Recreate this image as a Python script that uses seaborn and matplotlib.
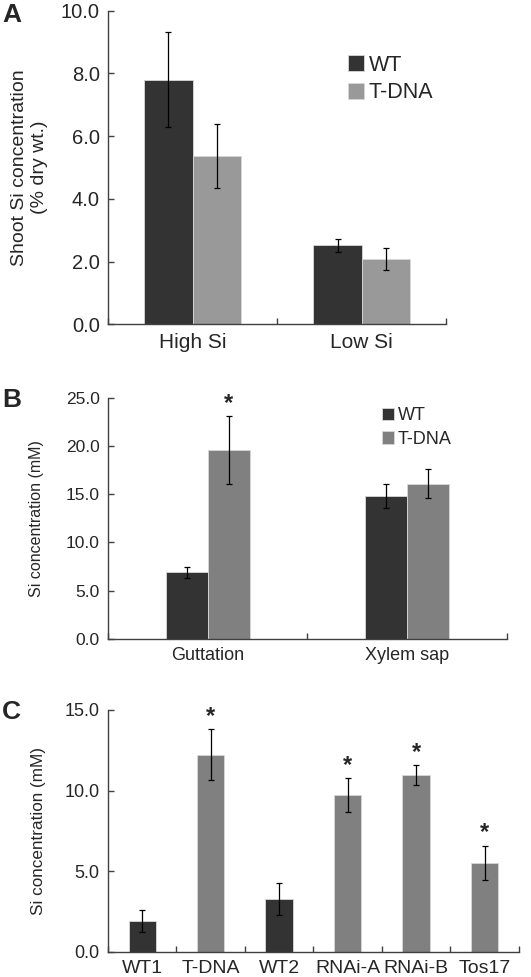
import numpy as np
import pandas as pd
import seaborn as sns
import matplotlib.pyplot as plt
from matplotlib.ticker import FormatStrFormatter, MultipleLocator

sns.set_style('ticks')
plt.rcParams['font.family'] = ['Liberation Sans', 'DejaVu Sans']

# Panel A - shoot Si concentration
a_conditions = ['High Si', 'Low Si']
a_wt = [7.80, 2.52]
a_wt_err = [1.52, 0.20]
a_tdna = [5.37, 2.08]
a_tdna_err = [1.02, 0.35]

# Panel B - guttation / xylem sap
b_conditions = ['Guttation', 'Xylem sap']
b_wt = [6.9, 14.8]
b_wt_err = [0.55, 1.22]
b_tdna = [19.6, 16.1]
b_tdna_err = [3.5, 1.47]
b_sig_tdna = [True, False]

# Panel C - lines
c_lines = ['WT1', 'T-DNA', 'WT2', 'RNAi-A', 'RNAi-B', 'Tos17']
c_vals = [1.90, 12.22, 3.27, 9.72, 10.97, 5.53]
c_err = [0.67, 1.57, 1.02, 1.05, 0.60, 1.05]
c_sig = [False, True, False, True, True, True]

dark = '#333333'
spine_col = '#404040'


def style_axis(ax, fs_x, fs_y, n_cat):
    sns.despine(ax=ax)
    for s in ['left', 'bottom']:
        ax.spines[s].set_color(spine_col)
        ax.spines[s].set_linewidth(1.0)
    ax.set_xlim(-0.5, n_cat - 0.5)
    # category boundaries get the ticks, labels sit in the middle
    ax.set_xticks(np.arange(n_cat + 1) - 0.5, minor=True)
    ax.tick_params(axis='x', which='major', length=0, labelsize=fs_x, pad=6)
    ax.tick_params(axis='x', which='minor', direction='in', length=4.5,
                   width=1, color=spine_col)
    ax.tick_params(axis='y', direction='in', length=4.5, width=1,
                   color=spine_col, labelsize=fs_y, pad=6)
    ax.yaxis.set_major_formatter(FormatStrFormatter('%.1f'))
    ax.set_xlabel('')
    ax.grid(False)


def bar_centers(ax):
    # one list of bar centres per bar container (hue level)
    out = []
    for cont in list(ax.containers):
        out.append([p.get_x() + p.get_width() / 2 for p in cont.patches])
    return out


def add_errors(ax, centers, vals, errs):
    for xs, ys, err in zip(centers, vals, errs):
        ax.errorbar(xs, ys, yerr=err, fmt='none', ecolor='black',
                    elinewidth=0.9, capsize=2.5, capthick=0.9)


def add_stars(ax, xs, tops, fs=17):
    for x, t in zip(xs, tops):
        ax.annotate('*', xy=(x, t), xytext=(0, 1), textcoords='offset points',
                    ha='center', va='bottom', fontsize=fs, fontweight='bold')


fig = plt.figure(figsize=(5.31, 9.77), dpi=100)

# ---------------- A ----------------
axA = fig.add_axes([0.2034, 0.668, 0.637, 0.321])
dfA = pd.DataFrame({
    'cond': a_conditions * 2,
    'val': a_wt + a_tdna,
    'line': ['WT'] * 2 + ['T-DNA'] * 2,
})
sns.barplot(data=dfA, x='cond', y='val', hue='line', ax=axA,
            palette={'WT': dark, 'T-DNA': '#999999'}, errorbar=None,
            width=0.57, edgecolor='#d8d8d8', linewidth=0.6, saturation=1)
cA = bar_centers(axA)
add_errors(axA, cA, [a_wt, a_tdna], [a_wt_err, a_tdna_err])
axA.set_ylim(0, 10)
axA.yaxis.set_major_locator(MultipleLocator(2))
style_axis(axA, 15, 14.5, 2)
axA.set_ylabel('Shoot Si concentration\n(% dry wt.)', fontsize=14,
               linespacing=1.2)
axA.yaxis.set_label_coords(-0.178, 0.5)
h, l = axA.get_legend_handles_labels()
axA.legend(h, l, frameon=False, loc='upper left', bbox_to_anchor=(0.685, 0.887),
           fontsize=15.5, handlelength=0.75, handleheight=0.75,
           handletextpad=0.2, labelspacing=0.3, borderaxespad=0)

# ---------------- B ----------------
axB = fig.add_axes([0.2034, 0.346, 0.751, 0.247])
dfB = pd.DataFrame({
    'cond': b_conditions * 2,
    'val': b_wt + b_tdna,
    'line': ['WT'] * 2 + ['T-DNA'] * 2,
})
sns.barplot(data=dfB, x='cond', y='val', hue='line', ax=axB,
            palette={'WT': dark, 'T-DNA': '#808080'}, errorbar=None,
            width=0.42, edgecolor='#d8d8d8', linewidth=0.6, saturation=1)
cB = bar_centers(axB)
add_errors(axB, cB, [b_wt, b_tdna], [b_wt_err, b_tdna_err])
add_stars(axB, [x for x, s in zip(cB[1], b_sig_tdna) if s],
          [v + e for v, e, s in zip(b_tdna, b_tdna_err, b_sig_tdna) if s])
axB.set_ylim(0, 25)
axB.yaxis.set_major_locator(MultipleLocator(5))
style_axis(axB, 13, 12.5, 2)
axB.set_ylabel('Si concentration (mM)', fontsize=11.5)
axB.yaxis.set_label_coords(-0.16, 0.5)
h, l = axB.get_legend_handles_labels()
axB.legend(h, l, frameon=False, loc='upper left', bbox_to_anchor=(0.668, 0.99),
           fontsize=13, handlelength=0.7, handleheight=0.7,
           handletextpad=0.2, labelspacing=0.35, borderaxespad=0)

# ---------------- C ----------------
axC = fig.add_axes([0.2034, 0.0259, 0.7736, 0.2474])
dfC = pd.DataFrame({'line': c_lines, 'val': c_vals})
c_pal = {k: (dark if k.startswith('WT') else '#808080') for k in c_lines}
sns.barplot(data=dfC, x='line', y='val', hue='line', ax=axC, palette=c_pal,
            errorbar=None, width=0.4, edgecolor='#d8d8d8', linewidth=0.6,
            saturation=1, legend=False)
xs_c = [c[0] for c in bar_centers(axC)]
add_errors(axC, [xs_c], [c_vals], [c_err])
add_stars(axC, [x for x, s in zip(xs_c, c_sig) if s],
          [v + e for v, e, s in zip(c_vals, c_err, c_sig) if s])
axC.set_ylim(0, 15)
axC.yaxis.set_major_locator(MultipleLocator(5))
style_axis(axC, 14, 13, 6)
axC.set_ylabel('Si concentration (mM)', fontsize=12.3)
axC.yaxis.set_label_coords(-0.151, 0.5)

# panel letters
for lab, y in [('A', 0.985), ('B', 0.5906), ('C', 0.2712)]:
    fig.text(0.004, y, lab, fontsize=19, fontweight='bold', va='center', ha='left')

fig.savefig('out.png', dpi=100)
